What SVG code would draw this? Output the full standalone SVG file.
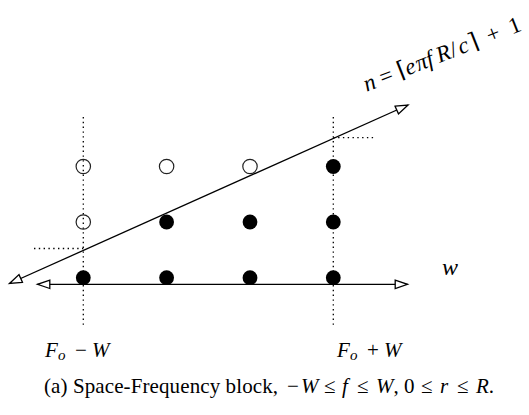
<svg xmlns="http://www.w3.org/2000/svg" width="529" height="415" viewBox="0 0 529 415">
<style>
.dot{stroke:#000;stroke-width:1.3;stroke-dasharray:1.4 3.4;fill:none}
.ln{stroke:#000;stroke-width:1.3;fill:none}
.open{fill:none;stroke:#222;stroke-width:1.2}
.full{fill:#000}
text{font-family:"Liberation Serif","DejaVu Serif",serif;fill:#000}
.it{font-style:italic}
</style>
<defs>
<marker id="ah" markerWidth="16" markerHeight="12" refX="13" refY="4.5" orient="auto-start-reverse" markerUnits="userSpaceOnUse" overflow="visible">
<path d="M0.7,0.3 L13,4.5 L0.7,8.7 Z" fill="#fff" stroke="#000" stroke-width="1.3" stroke-linejoin="miter"/>
</marker>
</defs>
<g id="guides">
<line class="dot" x1="83.3" y1="117" x2="83.3" y2="328"/>
<line class="dot" x1="333.3" y1="117" x2="333.3" y2="328"/>
<line class="dot" x1="34" y1="248.5" x2="83.3" y2="248.5"/>
<line class="dot" x1="333.3" y1="137.7" x2="376" y2="137.7"/>
</g>
<g id="points">
<circle class="open" cx="83.3" cy="166.5" r="7.2"/>
<circle class="open" cx="166.6" cy="166.5" r="7.2"/>
<circle class="open" cx="250" cy="166.5" r="7.2"/>
<circle class="full" cx="333.3" cy="166.5" r="7.4"/>
<circle class="open" cx="83.3" cy="222" r="7.2"/>
<circle class="full" cx="166.6" cy="222" r="7.4"/>
<circle class="full" cx="250" cy="222" r="7.4"/>
<circle class="full" cx="333.3" cy="222" r="7.4"/>
</g>
<g id="connectors">
<line class="ln" x1="37.5" y1="284.3" x2="407.5" y2="284.3" marker-start="url(#ah)" marker-end="url(#ah)"/>
<line class="ln" x1="9.5" y1="283.5" x2="408" y2="105" marker-start="url(#ah)" marker-end="url(#ah)"/>
</g>
<g id="row0">
<circle class="full" cx="83.3" cy="277.7" r="7.4"/>
<circle class="full" cx="166.6" cy="277.7" r="7.4"/>
<circle class="full" cx="250" cy="277.7" r="7.4"/>
<circle class="full" cx="333.3" cy="277.7" r="7.4"/>
</g>
<g id="labels">
<text font-size="23" transform="rotate(-21.5 366.7 91.7)"><tspan x="366.7" y="91.7" class="it">n</tspan><tspan x="384">=</tspan><tspan x="403">⌈</tspan><tspan x="411" class="it">e</tspan><tspan x="422.5" class="it">π</tspan><tspan x="434" class="it">f</tspan><tspan x="445" class="it">R</tspan><tspan x="459.5">/</tspan><tspan x="468" class="it">c</tspan><tspan x="480">⌉</tspan><tspan x="499">+</tspan><tspan x="523">1</tspan></text>
<text x="442" y="275" font-size="24" class="it">w</text>
<text y="357" font-size="21"><tspan x="45" class="it">F</tspan><tspan x="58" class="it" font-size="15" dy="3">o</tspan><tspan x="75" dy="-3">−</tspan><tspan x="92" class="it">W</tspan></text>
<text y="357" font-size="21"><tspan x="337" class="it">F</tspan><tspan x="350" class="it" font-size="15" dy="3">o</tspan><tspan x="367" dy="-3">+</tspan><tspan x="384" class="it">W</tspan></text>
<text x="44" y="393" font-size="21" textLength="234" lengthAdjust="spacing">(a) Space-Frequency block,</text>
<text y="393" font-size="21"><tspan x="287">−</tspan><tspan x="301" class="it">W</tspan><tspan x="324">≤</tspan><tspan x="342" class="it">f</tspan><tspan x="357">≤</tspan><tspan x="376" class="it">W</tspan><tspan>,</tspan><tspan x="404">0</tspan><tspan x="421">≤</tspan><tspan x="440" class="it">r</tspan><tspan x="457">≤</tspan><tspan x="476" class="it">R</tspan><tspan>.</tspan></text>
</g>
</svg>
